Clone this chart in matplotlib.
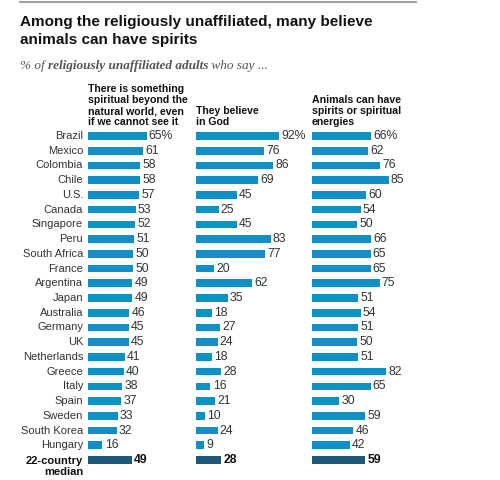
import matplotlib
matplotlib.use("Agg")
import matplotlib.pyplot as plt

countries = ["Brazil", "Mexico", "Colombia", "Chile", "U.S.", "Canada", "Singapore", "Peru",
             "South Africa", "France", "Argentina", "Japan", "Australia", "Germany", "UK",
             "Netherlands", "Greece", "Italy", "Spain", "Sweden", "South Korea", "Hungary"]
spiritual = [65, 61, 58, 58, 57, 53, 52, 51, 50, 50, 49, 49, 46, 45, 45, 41, 40, 38, 37, 33, 32, 16]
god = [92, 76, 86, 69, 45, 25, 45, 83, 77, 20, 62, 35, 18, 27, 24, 18, 28, 16, 21, 10, 24, 9]
animals = [66, 62, 76, 85, 60, 54, 50, 66, 65, 65, 75, 51, 54, 51, 50, 51, 82, 65, 30, 59, 46, 42]
medians = [49, 28, 59]
headers = ["There is something\nspiritual beyond the\nnatural world, even\nif we cannot see it",
           "They believe\nin God",
           "Animals can have\nspirits or spiritual\nenergies"]

sans = "Liberation Sans"
serif = "Liberation Serif"

W, H = 500, 480
fig = plt.figure(figsize=(W / 100, H / 100), dpi=100)

def px(x, y):
    return x / W, 1 - y / H

BAR = "#0f8fc4"
DARK = "#1d5877"

# top rule
fig.add_artist(plt.Line2D([20 / W, 416 / W], [1 - 2 / H, 1 - 2 / H], color="#a0a0a0", lw=1.5))

fig.text(*px(20, 15), "Among the religiously unaffiliated, many believe\nanimals can have spirits",
         ha="left", va="top", fontsize=11, fontweight="bold", family=sans,
         color="#111111", linespacing=1.38)

# subtitle in pieces
renderer = fig.canvas.get_renderer()
xs = 20
for txt, wt in [("% of ", "normal"), ("religiously unaffiliated adults", "bold"), (" who say ...", "normal")]:
    t = fig.text(*px(xs, 66), txt, ha="left", va="center", fontsize=9.5, style="italic",
                 fontweight=wt, family=serif, color="#555555")
    bb = t.get_window_extent(renderer)
    xs += bb.width

n = len(countries) + 1
row_top, row_bot = 136, 460
step = (row_bot - row_top) / (n - 1)
ax_top = row_top - step / 2
ax_h = step * n
lefts = [88, 196, 312]
scale = 0.9  # px per percentage point

for k, vals in enumerate([spiritual, god, animals]):
    left = lefts[k]
    ax = fig.add_axes([left / W, 1 - (ax_top + ax_h) / H, 100 * scale / W, ax_h / H])
    ax.set_xlim(0, 100)
    ax.set_ylim(n - 0.5, -0.5)
    ax.axis("off")
    ys = list(range(len(vals)))
    ax.barh(ys, vals, height=0.52, color=BAR)
    ax.barh([len(vals)], [medians[k]], height=0.52, color=DARK)
    for i, v in enumerate(vals):
        lab = f"{v}%" if i == 0 else str(v)
        ax.text(v + 2.5, i, lab, va="center", ha="left", fontsize=8.8, family=sans, color="#333333")
    ax.text(medians[k] + 2.5, len(vals), str(medians[k]), va="center", ha="left",
            fontsize=8.8, family=sans, fontweight="bold", color="#111111")
    fig.text(*px(left, 127), headers[k], ha="left", va="bottom", fontsize=7.6,
             fontweight="bold", family=sans, color="#111111", linespacing=1.12)
    if k == 0:
        for i, c in enumerate(countries):
            ax.text(-5.5, i, c, ha="right", va="center", fontsize=8, family=sans, color="#333333")
        ax.text(-5.5, len(vals) - 0.3, "22-country\nmedian", ha="right", va="top",
                fontsize=8, family=sans, fontweight="bold", color="#111111", linespacing=1.2)

fig.savefig("out.png", dpi=100)
